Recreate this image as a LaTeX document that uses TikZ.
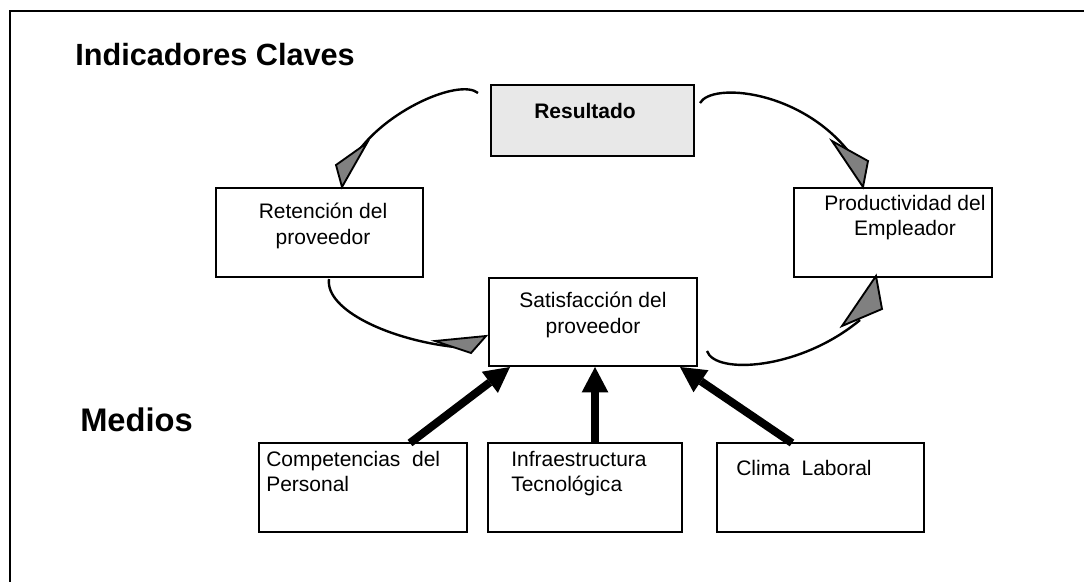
\documentclass[tikz,border=0pt]{standalone}
\usepackage{fontspec}
\setmainfont{Liberation Sans}
\usetikzlibrary{arrows.meta,calc,positioning}

\begin{document}
\begin{tikzpicture}[x=0.75pt,y=-0.75pt,
  caja/.style={draw,line width=1.5pt,inner sep=0pt,outer sep=0pt,anchor=north west,minimum height=66.75pt},
  texto/.style={inner sep=0pt,font=\fontsize{15.75}{19}\selectfont,align=center,anchor=north},
  textoizq/.style={texto,align=left,anchor=north west},
  titulo/.style={inner sep=0pt,font=\fontsize{23}{27}\selectfont\bfseries,anchor=base west},
  curva/.style={line width=1.8pt},
  punta/.style={draw,line width=1.4pt,fill=gray,line join=miter},
  medio/.style={line width=6pt,-{Triangle[length=19pt,width=20pt,line width=0pt]}}]
\useasboundingbox (0,0) rectangle (1084,582);
\draw[line width=1.8pt] (1084,11) -- (10,11) -- (10,582);

\node[titulo] (tind) at (75,65) {Indicadores Claves};
\node[titulo,font=\fontsize{24.5}{28}\selectfont\bfseries] (tmed) at (80,431) {Medios};

\node[caja,fill=gray!18,minimum width=152.25pt,minimum height=53.25pt] (res) at (491,85) {};
\node[caja,minimum width=155.25pt] (ret) at (216,188) {};
\node[caja,minimum width=148.5pt] (prod) at (794,188) {};
\node[caja,minimum width=156pt,minimum height=66pt] (sat) at (489,278) {};
\node[caja,minimum width=156pt] (comp) at (259,443) {};
\node[caja,minimum width=145.5pt] (infra) at (488,443) {};
\node[caja,minimum width=155.25pt] (clima) at (717,443) {};

\node[texto,font=\fontsize{15.75}{19}\selectfont\bfseries] (resT) at ($(res.north)+(-7.5,18)$) {Resultado};
\node[texto] (retT) at ($(ret.north)+(3.5,15)$) {Retención del\\proveedor};
\node[texto] (prodT) at ($(prod.north)+(12,7)$) {Productividad del\\Empleador};
\node[texto] (satT) at ($(sat.north)+(0,14)$) {Satisfacción del\\proveedor};
\node[textoizq] (compT) at ($(comp.north west)+(7,8)$) {Competencias\ \ del\\Personal};
\node[textoizq] (infraT) at ($(infra.north west)+(23,8)$) {Infraestructura\\Tecnológica};
\node[textoizq] (climaT) at ($(clima.north west)+(19,17)$) {Clima\ \ Laboral};

\coordinate (a1) at ($(res.north west)+(-13,8)$);
\coordinate (p1) at ($(ret.north west)+(126,-1)$);
\coordinate (a2) at ($(res.north east)+(6,18)$);
\coordinate (p2) at ($(prod.north west)+(69,-1)$);
\coordinate (a3) at ($(ret.south)+(9.5,2)$);
\coordinate (p3) at ($(sat.north west)+(-3,58)$);
\coordinate (a4) at ($(sat.north east)+(10,73)$);
\coordinate (p4) at ($(prod.south west)+(82,-1)$);

\draw[curva] (a1) .. controls +(-18,-15) and +(30,-46) .. ($(p1)+(13,-31)$);
\draw[punta] (p1) -- ++(-6,-22) -- ++(31,-22) -- cycle;
\draw[curva] (a2) .. controls +(12,-21) and +(-49,-62) .. ($(p2)+(-14,-35)$);
\draw[punta] (p2) -- ++(-31,-46) -- ++(36,20) -- cycle;
\draw[curva] (a3) .. controls +(-4,31) and +(-65,-7) .. ($(p3)+(-31,11)$);
\draw[punta] (p3) -- ++(-51,5) -- ++(36,12) -- cycle;
\draw[curva] (a4) .. controls +(8,24) and +(-60,50) .. ($(p4)+(-16,44)$);
\draw[punta] (p4) -- ++(-34,50) -- ++(40,-17) -- cycle;

\draw[medio] ($(comp.north west)+(151,0)$) -- ($(sat.south west)+(21,1)$);
\draw[medio] ($(infra.north west)+(107,0)$) -- ($(sat.south west)+(106,1)$);
\draw[medio] ($(clima.north west)+(75,0)$) -- ($(sat.south west)+(191,1)$);
\end{tikzpicture}
\end{document}
